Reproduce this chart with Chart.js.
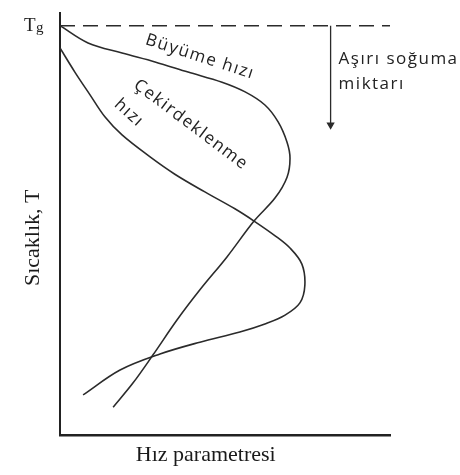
<!DOCTYPE html>
<html lang="tr">
<head>
<meta charset="UTF-8">
<title>Sıcaklık ve hız parametresi</title>
<script src="https://cdn.jsdelivr.net/npm/chart.js"></script>
<style>
  html, body { margin: 0; padding: 0; background: #fff; }
</style>
</head>
<body>
<canvas id="rateChart" width="460" height="475"></canvas>
<script>
// Büyüme hızı eğrisi: hız parametresi (x) ve sıcaklık (y)
const growthX = [0, 8.5, 18.8, 28.8, 38.8, 49.1, 56.1, 62.1, 66.1, 68.8, 69.7, 68.8, 65.2, 58.8, 50.6, 42.4, 35.5, 28.2, 22.1, 16.1];
const growthY = [97, 92.9, 90.5, 88.4, 86.0, 83.6, 81.3, 78.2, 74.2, 69.4, 65.6, 61.1, 56.2, 50.7, 42.2, 34.4, 27.3, 19.0, 12.3, 6.6];

// Çekirdeklenme hızı eğrisi
const nucleationX = [0, 4.5, 9.1, 13.6, 18.8, 27.3, 34.8, 43.9, 53.0, 58.8, 65.2, 69.7, 73.3, 74.2, 72.7, 68.2, 62.1, 54.5, 42.4, 30.3, 18.2, 7.0];
const nucleationY = [91.7, 86.0, 80.6, 75.4, 71.1, 65.9, 61.8, 57.6, 53.6, 50.7, 47.2, 44.3, 40.5, 35.5, 31.3, 28.4, 26.3, 24.4, 22.0, 19.2, 15.4, 9.5];

// Tg çizgisi ve aşırı soğuma oku
const tgLevel = 97;
const undercoolX = 82;
const undercoolEnd = 73.5;

const toPoints = (xs, ys) => xs.map((x, i) => ({ x: x, y: ys[i] }));

const ink = '#2b2b2b';

// eğri yazıları (veri koordinatında konum, derece cinsinden açı)
const curveLabels = [
    { text: 'Büyüme hızı', x: 42.4, y: 89.6, angle: 18 },
    { text: 'Çekirdeklenme', x: 39.7, y: 73.5, angle: 37 },
    { text: 'hızı', x: 20.9, y: 76.3, angle: 42 }
];

const notesPlugin = {
    id: 'notes',
    afterDraw(chart) {
        const ctx = chart.ctx;
        const xs = chart.scales.x;
        const ys = chart.scales.y;
        ctx.save();
        ctx.fillStyle = '#222';

        // Tg
        const tgY = ys.getPixelForValue(tgLevel);
        ctx.textBaseline = 'alphabetic';
        ctx.textAlign = 'left';
        ctx.font = '19px "Liberation Serif"';
        ctx.fillText('T', 24, tgY + 5);
        ctx.font = '15px "Liberation Serif"';
        ctx.fillText('g', 36, tgY + 6);

        // eğri etiketleri
        ctx.font = '17px "Open Sans"';
        ctx.letterSpacing = '1.5px';
        ctx.textAlign = 'center';
        ctx.textBaseline = 'middle';
        curveLabels.forEach(l => {
            ctx.save();
            ctx.translate(xs.getPixelForValue(l.x), ys.getPixelForValue(l.y));
            ctx.rotate(l.angle * Math.PI / 180);
            ctx.fillText(l.text, 0, 0);
            ctx.restore();
        });

        // aşırı soğuma yazısı
        const ax = xs.getPixelForValue(undercoolX) + 8;
        ctx.textAlign = 'left';
        ctx.textBaseline = 'alphabetic';
        ctx.fillText('Aşırı soğuma', ax, tgY + 38);
        ctx.fillText('miktarı', ax, tgY + 63);
        ctx.restore();
    }
};

const lineStyle = {
    showLine: true,
    borderColor: ink,
    borderWidth: 1.6,
    pointRadius: 0,
    fill: false
};

new Chart(document.getElementById('rateChart'), {
    type: 'scatter',
    data: {
        datasets: [
            Object.assign({ label: 'Büyüme hızı', data: toPoints(growthX, growthY), tension: 0.35 }, lineStyle),
            Object.assign({ label: 'Çekirdeklenme hızı', data: toPoints(nucleationX, nucleationY), tension: 0.35 }, lineStyle),
            Object.assign({}, lineStyle, {
                label: 'Tg',
                data: [{ x: 0, y: tgLevel }, { x: 100, y: tgLevel }],
                borderDash: [15, 8],
                borderWidth: 1.5
            }),
            Object.assign({}, lineStyle, {
                label: 'Aşırı soğuma miktarı',
                data: [{ x: undercoolX, y: tgLevel }, { x: undercoolX, y: undercoolEnd }],
                borderWidth: 1.3,
                pointRadius: [0, 3.5],
                pointStyle: 'triangle',
                rotation: 180,
                pointBackgroundColor: ink,
                pointBorderColor: ink
            })
        ]
    },
    plugins: [notesPlugin],
    options: {
        responsive: false,
        devicePixelRatio: 1,
        animation: false,
        layout: { padding: { left: 16, top: 13, right: 70, bottom: 0 } },
        plugins: {
            legend: { display: false },
            tooltip: { enabled: false }
        },
        scales: {
            x: {
                type: 'linear',
                min: 0,
                max: 100,
                ticks: { display: false },
                grid: { display: false, drawTicks: false },
                border: { color: '#222', width: 2.5 },
                title: {
                    display: true,
                    text: 'Hız parametresi       ',
                    color: '#1a1a1a',
                    font: { family: 'Liberation Serif', size: 22 },
                    padding: { top: 7, bottom: 6.6 }
                }
            },
            y: {
                type: 'linear',
                min: 0,
                max: 100,
                ticks: { display: false },
                grid: { display: false, drawTicks: false },
                border: { color: '#222', width: 2 },
                title: {
                    display: true,
                    text: 'Sıcaklık, T     ',
                    color: '#1a1a1a',
                    font: { family: 'Liberation Serif', size: 22 },
                    padding: { top: 3.8, bottom: 13.8 }
                }
            }
        }
    }
});
</script>
</body>
</html>
